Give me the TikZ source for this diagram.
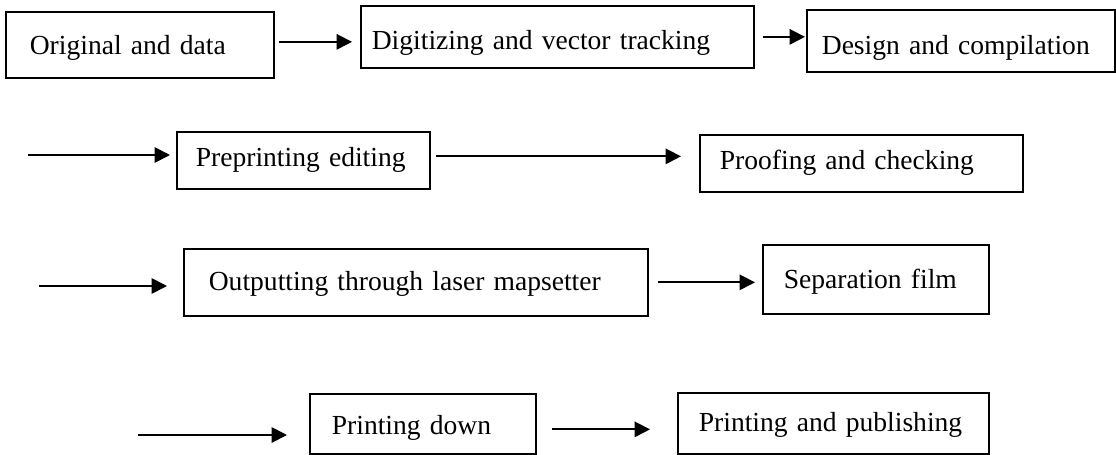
\documentclass[tikz,border=0pt]{standalone}
\usepackage{fontspec}
\setmainfont{Liberation Serif}
\usepackage{tikz}
\usetikzlibrary{arrows.meta,positioning}
\newdimen\pxu
\pxu=0.025cm
\newcommand{\stagefont}{\fontsize{19.6pt}{23pt}\selectfont}
\tikzstyle{stage} = [rectangle, draw=black, line width=1.2pt, anchor=north west, align=left, inner ysep=0pt, font=\stagefont]
\tikzstyle{arrow} = [line width=1.3pt, -{Triangle[length=11pt, width=11pt]}]

\begin{document}
\begin{tikzpicture}[x=0.025cm, y=-0.025cm]
\useasboundingbox (0,0) rectangle (1116,454);
% first row
\node (orig) [stage, text width=220\pxu, inner xsep=24\pxu, text height=43\pxu, text depth=23\pxu] at (5,11) {Original and data};
\node (digit) [stage, text width=371\pxu, inner xsep=11\pxu, text height=44\pxu, text depth=18\pxu] at (360,5) {Digitizing and vector tracking};
\node (design) [stage, text width=278\pxu, inner xsep=15\pxu, text height=45\pxu, text depth=17\pxu] at (806,9) {Design and compilation};

\draw[arrow, shorten <=4\pxu, shorten >=8\pxu] ([yshift=3\pxu]orig.east) -- ([yshift=3\pxu]orig.east -| digit.west);
\draw[arrow, shorten <=8\pxu, shorten >=1\pxu] (digit.east) -- (digit.east -| design.west);

% second row
\coordinate (in2) at (28,155);
\node (prepr) [stage, text width=215\pxu, inner xsep=19\pxu, text height=35\pxu, text depth=22\pxu] at (176,131) {Preprinting editing};
\node (proof) [stage, text width=283\pxu, inner xsep=20\pxu, text height=35\pxu, text depth=22\pxu] at (699,134) {Proofing and checking};

\draw[arrow, shorten >=6\pxu] (in2) -- (in2 -| prepr.west);
\draw[arrow, shorten <=5\pxu, shorten >=18\pxu] ([yshift=4\pxu]prepr.east) -- ([yshift=4\pxu]prepr.east -| proof.west);

% third row
\coordinate (in3) at (39,286);
\node (output) [stage, text width=414\pxu, inner xsep=25\pxu, text height=42\pxu, text depth=25\pxu] at (183,248) {Outputting through laser mapsetter};
\node (film) [stage, text width=184\pxu, inner xsep=21\pxu, text height=44\pxu, text depth=25\pxu] at (762,244) {Separation film};

\draw[arrow, shorten >=16\pxu] (in3) -- (in3 -| output.west);
\draw[arrow, shorten <=9\pxu, shorten >=7\pxu] (output.east) -- (output.east -| film.west);

% fourth row
\coordinate (in4) at (138,435);
\node (down) [stage, text width=182\pxu, inner xsep=22\pxu, text height=41\pxu, text depth=19\pxu] at (309,393) {Printing down};
\node (publ) [stage, text width=269\pxu, inner xsep=21\pxu, text height=39\pxu, text depth=22\pxu] at (677,392) {Printing and publishing};

\draw[arrow, shorten >=22\pxu] (in4) -- (in4 -| down.west);
\draw[arrow, shorten <=15\pxu, shorten >=27\pxu] ([yshift=-5.5\pxu]down.east) -- ([yshift=-5.5\pxu]down.east -| publ.west);
\end{tikzpicture}
\end{document}
